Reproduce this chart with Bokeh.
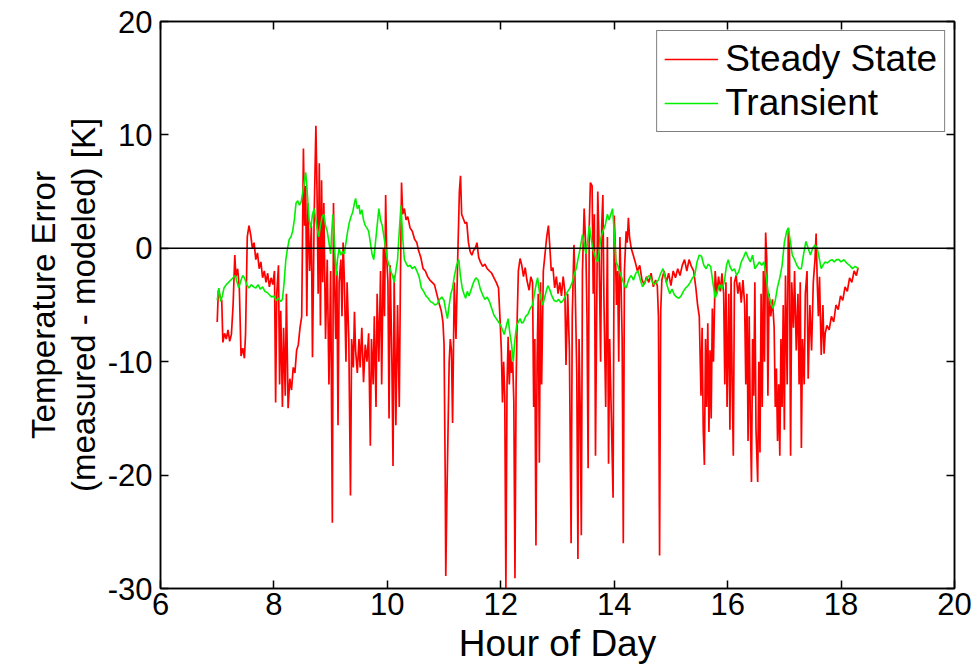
from bokeh.plotting import figure
from bokeh.models import Span, LinearAxis, FixedTicker, Legend, LegendItem, Title
from bokeh.embed import file_html
from bokeh.resources import INLINE

# ---------------- data ----------------
steady_hour = [
    7.00, 7.02, 7.05, 7.08, 7.10, 7.13, 7.16, 7.19, 7.22, 7.25, 7.28, 7.31, 7.33, 7.36, 7.39,
    7.42, 7.45, 7.48, 7.50, 7.53, 7.56, 7.59, 7.62, 7.65, 7.68, 7.71, 7.74, 7.77, 7.80, 7.83,
    7.86, 7.89, 7.92, 7.95, 7.98, 8.01, 8.03, 8.05, 8.08, 8.10, 8.12, 8.15, 8.17, 8.20, 8.22,
    8.25, 8.28, 8.31, 8.34, 8.37, 8.40, 8.43, 8.46, 8.49, 8.52, 8.54, 8.56, 8.58, 8.60, 8.63,
    8.66, 8.68, 8.71, 8.74, 8.76, 8.78, 8.80, 8.82, 8.84, 8.86, 8.88, 8.91, 8.94, 8.97, 9.00,
    9.03, 9.05, 9.07, 9.09, 9.11, 9.13, 9.15, 9.18, 9.20, 9.22, 9.24, 9.27, 9.29, 9.32, 9.35,
    9.37, 9.40, 9.42, 9.44, 9.47, 9.50, 9.52, 9.55, 9.58, 9.61, 9.64, 9.67, 9.70, 9.72, 9.75,
    9.77, 9.80, 9.82, 9.85, 9.88, 9.90, 9.93, 9.95, 9.97, 9.99, 10.01, 10.03, 10.05, 10.08, 10.10,
    10.12, 10.15, 10.18, 10.21, 10.23, 10.25, 10.27, 10.30, 10.33, 10.36, 10.40, 10.44, 10.48, 10.52, 10.55,
    10.59, 10.63, 10.67, 10.71, 10.75, 10.79, 10.83, 10.87, 10.91, 10.95, 10.98, 11.00, 11.02, 11.03, 11.05,
    11.07, 11.09, 11.11, 11.13, 11.15, 11.18, 11.21, 11.24, 11.27, 11.29, 11.31, 11.34, 11.37, 11.40, 11.43,
    11.46, 11.49, 11.52, 11.55, 11.58, 11.61, 11.64, 11.68, 11.72, 11.76, 11.80, 11.84, 11.88, 11.92, 11.96,
    11.99, 12.01, 12.03, 12.05, 12.07, 12.09, 12.11, 12.13, 12.15, 12.17, 12.19, 12.21, 12.23, 12.25, 12.27,
    12.29, 12.31, 12.34, 12.37, 12.40, 12.43, 12.46, 12.50, 12.53, 12.56, 12.58, 12.60, 12.62, 12.64, 12.66,
    12.68, 12.70, 12.72, 12.75, 12.78, 12.81, 12.84, 12.86, 12.89, 12.92, 12.95, 12.98, 13.01, 13.04, 13.07,
    13.10, 13.13, 13.15, 13.18, 13.21, 13.24, 13.26, 13.29, 13.31, 13.34, 13.36, 13.38, 13.40, 13.42, 13.44,
    13.47, 13.50, 13.52, 13.54, 13.56, 13.58, 13.61, 13.63, 13.65, 13.67, 13.69, 13.71, 13.73, 13.76, 13.78,
    13.80, 13.82, 13.85, 13.88, 13.90, 13.92, 13.95, 13.98, 14.00, 14.02, 14.04, 14.06, 14.08, 14.10, 14.12,
    14.14, 14.16, 14.18, 14.21, 14.23, 14.25, 14.27, 14.30, 14.33, 14.37, 14.41, 14.45, 14.49, 14.53, 14.57,
    14.61, 14.65, 14.69, 14.73, 14.76, 14.78, 14.80, 14.82, 14.84, 14.88, 14.92, 14.96, 15.00, 15.04, 15.08,
    15.12, 15.16, 15.20, 15.24, 15.28, 15.32, 15.36, 15.40, 15.44, 15.47, 15.50, 15.53, 15.55, 15.57, 15.59,
    15.61, 15.63, 15.65, 15.67, 15.69, 15.71, 15.73, 15.75, 15.78, 15.81, 15.84, 15.87, 15.90, 15.93, 15.95,
    15.97, 15.99, 16.02, 16.04, 16.06, 16.08, 16.10, 16.12, 16.15, 16.18, 16.21, 16.24, 16.27, 16.30, 16.32,
    16.34, 16.36, 16.38, 16.40, 16.42, 16.44, 16.46, 16.48, 16.50, 16.53, 16.55, 16.57, 16.59, 16.61, 16.63,
    16.65, 16.67, 16.69, 16.71, 16.73, 16.76, 16.79, 16.82, 16.84, 16.86, 16.88, 16.90, 16.92, 16.94, 16.96,
    16.98, 17.00, 17.02, 17.05, 17.07, 17.09, 17.11, 17.13, 17.16, 17.18, 17.21, 17.24, 17.26, 17.28, 17.30,
    17.32, 17.35, 17.37, 17.40, 17.42, 17.45, 17.48, 17.51, 17.54, 17.56, 17.58, 17.60, 17.62, 17.65, 17.68,
    17.70, 17.72, 17.75, 17.79, 17.83, 17.87, 17.91, 17.95, 17.99, 18.03, 18.07, 18.11, 18.15, 18.19, 18.23,
    18.27, 18.30,
]
steady_error = [
    -6.5, -3.7, -4.2, -4.6, -8.3, -7.5, -8.0, -7.2, -8.2, -7.6, -5.0, -0.6, -2.5, -1.8, -3.5,
    -9.5, -8.8, -9.7, -7.5, 1.0, 2.0, 1.2, 0.0, 0.5, -1.0, -0.4, -1.8, -1.2, -2.6, -2.0,
    -3.0, -2.2, -3.4, -2.6, -3.2, -2.0, -13.6, -4.0, -1.5, -12.0, -5.5, -14.0, -7.0, -13.0, -4.0,
    -14.1, -11.5, -12.5, -10.5, -11.0, -9.0, -8.5, -7.0, -6.0, 8.8, 2.0, 5.5, -6.0, 4.0, -2.0,
    2.0, -9.6, 3.0, 10.8, 5.0, -4.0, 7.5, -6.8, 6.0, -3.0, 4.0, -8.0, -1.0, -12.0, -2.0,
    -24.2, 4.0, -3.0, -8.0, -2.0, -15.6, -3.0, -1.0, -6.0, 0.5, -2.5, -10.0, -3.0, -8.0, -21.8,
    -8.0, -10.5, -5.6, -9.0, -11.0, -8.0, -10.5, -7.0, -11.8, -8.5, -10.0, -7.5, -17.4, -8.0, -12.0,
    -6.0, -14.0, -4.0, -10.0, -2.0, -12.0, 0.0, -6.0, 4.7, -1.0, -3.0, -15.0, -1.5, -10.0, -19.2,
    -2.4, -15.6, -5.0, -14.0, -3.0, 5.8, 3.0, 3.5, 2.5, 2.8, 1.8, 1.5, 0.8, 0.5, -0.2,
    -0.8, -1.8, -2.0, -2.5, -2.8, -3.0, -3.2, -4.0, -4.8, -5.5, -6.5, -8.5, -20.0, -28.9, -22.0,
    -16.0, -10.0, -8.0, -9.0, -15.4, -3.0, -8.0, -1.0, 5.0, 6.4, 3.0, 2.6, 2.2, 2.3, 0.5,
    -0.3, -0.6, -0.2, 0.0, 0.5, -0.8, -1.2, -1.6, -1.4, -1.8, -2.0, -2.2, -2.6, -3.0, -3.5,
    -6.6, -9.0, -13.6, -10.0, -13.0, -30.0, -12.0, -7.8, -12.0, -9.0, -11.0, -10.0, -13.5, -29.1, -12.0,
    -6.0, -2.0, -0.9, -1.5, -2.5, -1.7, -2.8, -3.7, -2.5, -3.0, -14.0, -8.0, -26.2, -10.0, -4.0,
    -18.9, -3.0, -12.0, -2.0, -0.5, 1.0, 2.0, 0.5, -2.0, -1.7, -3.5, -2.5, -4.0, -3.0, -4.2,
    -2.5, -3.8, -10.3, -4.0, -9.0, -26.0, -6.0, 0.3, -3.0, -11.0, -27.4, -8.0, -14.0, -25.3, -2.0,
    3.5, 0.0, -6.0, -19.4, 2.0, 5.8, 5.5, -4.0, 3.0, -18.3, -6.0, 5.0, 1.0, -10.0, 2.0,
    4.7, -5.0, -14.0, 1.0, -19.0, -8.0, -15.0, -22.0, 2.9, 0.0, -5.0, -2.0, -10.0, 1.0, -3.0,
    -8.0, -26.0, -2.0, 1.5, 0.5, 2.7, 1.0, 0.0, -0.5, -1.2, -2.0, -1.5, -2.8, -3.2, -2.5,
    -3.0, -2.2, -3.4, -2.8, -3.3, -6.0, -27.1, -5.5, -2.8, -2.0, -3.0, -2.2, -3.3, -2.0, -2.6,
    -1.8, -2.4, -1.5, -1.0, -2.0, -1.0, -1.6, -2.0, -3.5, -5.0, -6.0, -13.0, -7.0, -16.0, -19.1,
    -8.0, -14.0, -6.6, -16.2, -9.0, -15.0, -5.3, -10.0, -2.0, -4.0, -2.5, -3.8, -2.2, -4.0, -12.0,
    -3.0, -14.0, -4.0, -16.0, -2.5, -12.0, -18.3, -3.0, -2.4, -4.0, -3.0, -4.8, -2.8, -5.0, -12.0,
    -4.0, -17.0, -6.0, -15.0, -20.6, -8.0, -13.0, -3.0, -16.0, -20.6, -10.0, -18.0, -4.0, -14.0, -2.0,
    -10.0, 1.4, -1.0, -13.0, -4.0, -6.0, -4.5, -7.0, -14.0, -10.6, -17.0, -12.0, -18.3, -8.0, -14.0,
    -5.0, -16.0, -2.4, -12.0, 1.8, 0.0, -18.3, -3.0, -7.0, -2.0, -9.0, -4.0, -12.0, -3.0, -17.6,
    -8.0, -12.0, -4.0, -2.0, -11.5, -5.0, -9.0, -3.0, -1.0, 1.3, -3.0, -6.0, -2.5, -9.4, -5.0,
    -9.3, -7.5, -6.8, -7.2, -6.0, -6.5, -5.0, -5.4, -4.2, -4.6, -3.4, -3.8, -2.6, -3.0, -2.0,
    -2.4, -1.7,
]

transient_hour = [
    7.00, 7.03, 7.06, 7.09, 7.12, 7.16, 7.20, 7.24, 7.28, 7.32, 7.35, 7.38, 7.42, 7.45, 7.48,
    7.52, 7.56, 7.60, 7.64, 7.68, 7.72, 7.76, 7.80, 7.84, 7.88, 7.92, 7.96, 8.00, 8.04, 8.08,
    8.12, 8.15, 8.18, 8.21, 8.24, 8.27, 8.30, 8.33, 8.36, 8.39, 8.42, 8.45, 8.48, 8.51, 8.54,
    8.56, 8.58, 8.60, 8.62, 8.65, 8.68, 8.71, 8.74, 8.76, 8.79, 8.82, 8.85, 8.88, 8.91, 8.94,
    8.97, 9.00, 9.02, 9.04, 9.06, 9.08, 9.10, 9.12, 9.15, 9.18, 9.21, 9.24, 9.27, 9.30, 9.33,
    9.36, 9.39, 9.42, 9.44, 9.47, 9.50, 9.52, 9.55, 9.58, 9.61, 9.64, 9.67, 9.70, 9.73, 9.76,
    9.79, 9.82, 9.85, 9.88, 9.91, 9.94, 9.97, 10.00, 10.03, 10.06, 10.09, 10.12, 10.15, 10.18, 10.21,
    10.24, 10.27, 10.30, 10.33, 10.36, 10.40, 10.44, 10.48, 10.52, 10.56, 10.60, 10.64, 10.68, 10.72, 10.76,
    10.80, 10.84, 10.88, 10.92, 10.96, 11.00, 11.03, 11.06, 11.09, 11.12, 11.15, 11.18, 11.22, 11.26, 11.29,
    11.32, 11.35, 11.38, 11.41, 11.44, 11.48, 11.52, 11.56, 11.60, 11.64, 11.68, 11.72, 11.76, 11.80, 11.84,
    11.88, 11.92, 11.96, 12.00, 12.03, 12.06, 12.10, 12.13, 12.16, 12.19, 12.22, 12.25, 12.28, 12.31, 12.34,
    12.37, 12.40, 12.44, 12.48, 12.52, 12.56, 12.60, 12.63, 12.65, 12.68, 12.71, 12.74, 12.77, 12.80, 12.83,
    12.86, 12.90, 12.94, 12.98, 13.02, 13.06, 13.10, 13.14, 13.18, 13.22, 13.26, 13.30, 13.33, 13.36, 13.40,
    13.44, 13.47, 13.50, 13.53, 13.56, 13.59, 13.62, 13.65, 13.68, 13.71, 13.74, 13.77, 13.80, 13.84, 13.88,
    13.91, 13.94, 13.97, 14.00, 14.03, 14.06, 14.09, 14.12, 14.15, 14.18, 14.21, 14.24, 14.27, 14.30, 14.34,
    14.38, 14.42, 14.46, 14.50, 14.54, 14.58, 14.62, 14.66, 14.70, 14.74, 14.78, 14.82, 14.86, 14.90, 14.94,
    14.98, 15.02, 15.06, 15.10, 15.14, 15.18, 15.22, 15.26, 15.30, 15.34, 15.38, 15.42, 15.46, 15.50, 15.54,
    15.58, 15.62, 15.66, 15.70, 15.74, 15.78, 15.82, 15.86, 15.90, 15.94, 15.98, 16.01, 16.04, 16.08, 16.12,
    16.16, 16.20, 16.24, 16.28, 16.32, 16.36, 16.40, 16.44, 16.48, 16.52, 16.56, 16.60, 16.64, 16.68, 16.72,
    16.76, 16.80, 16.84, 16.88, 16.92, 16.96, 17.00, 17.04, 17.07, 17.10, 17.14, 17.18, 17.22, 17.26, 17.30,
    17.34, 17.38, 17.42, 17.46, 17.50, 17.54, 17.58, 17.62, 17.65, 17.68, 17.72, 17.76, 17.80, 17.84, 17.88,
    17.92, 17.96, 18.00, 18.05, 18.10, 18.15, 18.20, 18.25, 18.30,
]
transient_error = [
    -4.6, -3.5, -4.7, -4.2, -3.5, -3.2, -3.0, -2.8, -2.6, -2.4, -3.0, -3.5, -2.8, -2.4, -2.6,
    -3.2, -3.5, -3.2, -3.4, -3.5, -3.2, -3.6, -3.4, -3.8, -3.9, -4.1, -4.3, -4.2, -4.6, -4.4,
    -4.7, -4.5, -3.0, -1.0, 0.0, 0.8, 1.0, 1.5, 2.5, 4.0, 4.2, 3.8, 4.1, 5.0, 6.0,
    6.7, 5.5, 4.0, 2.5, 1.8, 3.0, 3.5, 2.5, 1.8, 1.0, 2.0, 2.8, 3.0, 2.0, 1.5,
    0.5, -0.5, 1.5, 3.0, 1.0, -1.0, -2.4, -1.0, 0.0, -0.6, -0.3, -0.5, 0.5, 1.5, 2.3,
    2.8, 3.2, 4.0, 4.4, 3.5, 3.8, 3.0, 3.4, 2.5, 2.0, 1.8, 1.5, 0.5, -0.5, -1.0,
    0.5, 2.0, 3.5, 2.5, 2.0, 1.0, 0.0, -1.0, -1.5, -2.0, -2.4, -3.0, -2.0, -1.0, 1.5,
    3.8, 1.0, -1.0, -1.3, -1.6, -1.5, -1.8, -1.6, -2.0, -2.5, -3.5, -3.8, -4.2, -4.4, -4.7,
    -4.8, -5.0, -4.9, -4.5, -4.3, -4.6, -5.5, -6.2, -5.0, -4.0, -3.5, -2.5, -1.5, -1.0, -2.5,
    -3.5, -4.0, -4.4, -3.8, -4.2, -3.6, -3.0, -2.6, -2.8, -3.6, -4.1, -4.5, -4.3, -4.7, -5.3,
    -5.9, -6.2, -6.5, -6.8, -7.2, -7.6, -6.8, -6.2, -7.5, -8.5, -10.0, -8.0, -6.8, -6.5, -6.2,
    -6.6, -6.5, -6.0, -5.8, -5.3, -5.0, -3.8, -3.0, -2.6, -3.8, -4.5, -5.0, -4.4, -3.8, -3.3,
    -3.6, -4.2, -4.6, -4.7, -4.5, -4.8, -4.6, -4.2, -3.8, -3.5, -3.0, -2.2, -1.8, -1.0, 0.0,
    1.2, 0.5, -0.5, 0.5, 2.0, 1.0, 0.0, -0.5, -1.0, -1.2, 0.0, 1.0, 1.5, 2.0, 3.0,
    2.5, 3.0, 3.5, 1.5, -1.2, -1.5, -2.0, -2.4, -2.8, -3.3, -3.5, -3.0, -2.6, -2.4, -2.8,
    -2.2, -2.0, -2.8, -3.4, -3.0, -2.6, -2.4, -2.8, -3.2, -3.0, -2.8, -2.2, -1.8, -2.6, -3.4,
    -4.0, -3.6, -4.1, -4.3, -4.4, -4.2, -3.8, -3.5, -3.3, -3.0, -2.6, -2.4, -1.2, -0.6, -0.7,
    -1.5, -1.8, -1.4, -1.6, -3.0, -4.4, -3.8, -3.2, -3.6, -3.0, -1.5, -1.0, -1.6, -2.0, -1.8,
    -2.4, -2.0, -1.2, -0.8, -0.3, -0.8, -1.2, -0.6, -1.8, -1.5, -1.2, -1.5, -1.2, -2.5, -4.1,
    -4.8, -5.3, -4.6, -3.4, -2.6, -1.5, 0.5, 1.5, 1.8, 0.8, -0.6, -1.0, -1.5, -1.8, -1.8,
    -0.5, 0.6, 0.0, -0.6, 0.0, 0.3, 0.0, -1.0, -1.8, -1.5, -1.2, -1.3, -1.1, -1.0, -1.2,
    -1.0, -1.0, -1.2, -1.0, -1.3, -1.5, -1.8, -1.6, -1.8,
]

x_ticks = [6, 8, 10, 12, 14, 16, 18, 20]
y_ticks = [-30, -20, -10, 0, 10, 20]
series_names = ["Steady State", "Transient"]
series_colors = ["#ff0000", "#00f000"]
x_title = "Hour of Day"
y_title_lines = ["Temperature Error", "(measured - modeled) [K]"]

FONT = "Liberation Sans"

p = figure(
    frame_width=794, frame_height=567,
    x_range=(6, 20), y_range=(-30, 20),
    output_backend="svg", toolbar_location=None,
    min_border_left=160, min_border_right=20, min_border_top=21, min_border_bottom=78,
    background_fill_color="white", border_fill_color="white",
)
p.grid.visible = False
p.outline_line_color = "black"
p.outline_line_width = 1.5

r1 = p.line(steady_hour, steady_error, line_color=series_colors[0], line_width=1.7)
r2 = p.line(transient_hour, transient_error, line_color=series_colors[1], line_width=1.6)

p.add_layout(Span(location=0, dimension="width", line_color="black", line_width=1.5))

def style_axis(ax, ticks, show_labels=True):
    ax.ticker = FixedTicker(ticks=ticks)
    ax.major_tick_in = 8
    ax.major_tick_out = 0
    ax.minor_tick_in = 0
    ax.minor_tick_out = 0
    ax.axis_line_color = "black"
    ax.axis_line_width = 1.5
    ax.major_tick_line_color = "black"
    ax.major_tick_line_width = 1.5
    ax.major_label_text_font = FONT
    ax.major_label_text_color = "black"
    ax.major_label_text_font_size = "31px"
    if show_labels:
        ax.major_label_overrides = {t: str(t) for t in ticks}
    else:
        ax.major_label_overrides = {t: "" for t in ticks}
        ax.major_label_standoff = 0

xa = p.xaxis[0]
ya = p.yaxis[0]
style_axis(xa, x_ticks)
style_axis(ya, y_ticks)
xa.major_label_standoff = 4
ya.major_label_standoff = 8
xa.axis_label = x_title
ya.axis_label = y_title_lines[1]
xa.axis_label_text_font_size = "37px"
ya.axis_label_text_font_size = "33px"
for ax in (xa, ya):
    ax.axis_label_text_font = FONT
    ax.axis_label_text_font_style = "normal"
    ax.axis_label_text_color = "black"
xa.axis_label_standoff = 5
ya.axis_label_standoff = 3

ytitle = Title(text=y_title_lines[0], align="center", text_font=FONT,
               text_font_size="33px", text_font_style="normal", text_color="black",
               standoff=0, offset=0)
p.add_layout(ytitle, "left")

top_ax = LinearAxis()
right_ax = LinearAxis()
style_axis(top_ax, x_ticks, show_labels=False)
style_axis(right_ax, y_ticks, show_labels=False)
p.add_layout(top_ax, "above")
p.add_layout(right_ax, "right")

legend = Legend(items=[
    LegendItem(label=series_names[0], renderers=[r1]),
    LegendItem(label=series_names[1], renderers=[r2]),
])
legend.location = "top_right"
legend.margin = 9
legend.padding = 7
legend.spacing = 2
legend.border_line_color = "black"
legend.border_line_width = 1.5
legend.background_fill_color = "white"
legend.background_fill_alpha = 1.0
legend.label_text_font = FONT
legend.label_text_font_size = "37px"
legend.label_text_color = "black"
legend.glyph_width = 54
legend.glyph_height = 42
legend.label_height = 40
legend.label_standoff = 7
p.add_layout(legend, "center")

open("out.html", "w").write(file_html(p, INLINE))
